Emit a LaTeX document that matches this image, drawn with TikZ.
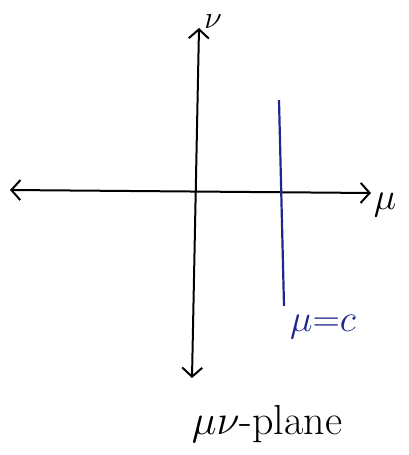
\documentclass[tikz,border=0pt]{standalone}
\usepackage{fix-cm}
\usepackage{amsmath, amssymb}
\usepackage{tikz}
\usetikzlibrary{arrows.meta}

\definecolor{penblue}{RGB}{30,40,140}

\begin{document}
\begin{tikzpicture}[x=1pt, y=-1pt,
    axis/.style={line width=2pt, {Straight Barb[length=9pt,width=20pt]}-{Straight Barb[length=9pt,width=20pt]}},
    lbl/.style={inner sep=0pt, font=\fontsize{38}{42}\selectfont}]
    \useasboundingbox (0, 0) rectangle (409, 455);

    % Axes
    \coordinate (left) at (10, 190);
    \coordinate (right) at (371, 193);
    \coordinate (top) at (199, 28);
    \coordinate (bottom) at (192, 378);
    \draw[axis] (left) -- (right);
    \draw[axis] (bottom) -- (top);
    \node[lbl] (mu) at (385, 205) {$\mu$};
    \node[lbl, font=\fontsize{32}{36}\selectfont] (nu) at (213, 22) {$\nu$};

    % Vertical line mu = c
    \coordinate (ctop) at (279, 100);
    \coordinate (cbot) at (284, 306);
    \draw[penblue, line width=2.2pt] (ctop) -- (cbot);
    \node[lbl, penblue] (mueqc) at (323, 327) {$\mu{=}c$};

    % Caption
    \node[lbl, font=\fontsize{42}{46}\selectfont] (caption) at (267, 424) {$\mu\nu$-plane};
\end{tikzpicture}
\end{document}
